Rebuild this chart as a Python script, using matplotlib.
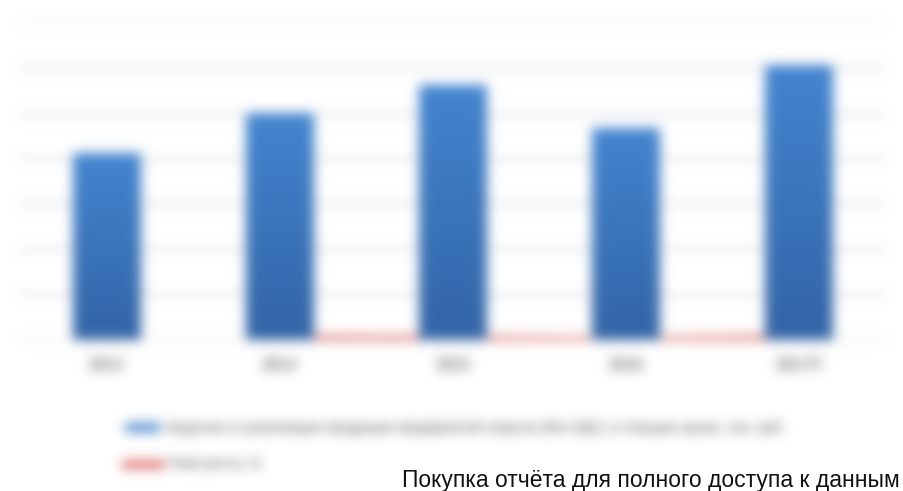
import numpy as np
import matplotlib
matplotlib.use("Agg")
import matplotlib.pyplot as plt
from matplotlib.colors import LinearSegmentedColormap

plt.rcParams['font.family'] = ['Liberation Sans', 'DejaVu Sans']

years = ["2013", "2014", "2015", "2016", "2017П"]
revenue = [4130, 5010, 5630, 4680, 6070]
growth_years = ["2014", "2015", "2016", "2017П"]
growth = [21.3, 12.4, -16.9, 29.7]
label_bars = "Выручка от реализации продукции предприятий отрасли (без НДС), в текущих ценах, тыс. руб."
label_line = "Темп роста, %"
note = "Покупка отчёта для полного доступа к данным"


def blur(img, dpi, sigma=6.0):
    # gaussian blur on premultiplied rgba, padded so it can spread out
    r = int(3 * sigma)
    a = np.pad(img, ((r, r), (r, r), (0, 0)))
    pm = np.concatenate([a[..., :3] * a[..., 3:4], a[..., 3:4]], axis=2)
    k = np.exp(-0.5 * (np.arange(-r, r + 1) / sigma) ** 2)
    k /= k.sum()
    for axis in (0, 1):
        out = np.zeros_like(pm)
        for i, w in zip(range(-r, r + 1), k):
            out += w * np.roll(pm, i, axis=axis)
        pm = out
    alpha = pm[..., 3:4]
    rgb = pm[..., :3] / np.maximum(alpha, 1e-6)
    res = np.clip(np.concatenate([rgb, alpha], axis=2), 0, 1)
    return res, -r, -r


fig = plt.figure(figsize=(9.04, 4.91), dpi=100)
fig.patch.set_facecolor("white")
ax = fig.add_axes([0.022, 0.3075, 0.957, 0.6455])
ax.set_facecolor("none")

x = np.arange(len(years))
bars = ax.bar(x, revenue, width=0.39, color="#4a86cc", zorder=2, label=label_bars)

grad = np.linspace(0, 1, 256).reshape(-1, 1)
cmap = LinearSegmentedColormap.from_list("bar", ["#3264a6", "#4385d0"])
for rect in bars:
    x0, y0 = rect.get_x(), rect.get_y()
    im = ax.imshow(grad, cmap=cmap, origin="lower", aspect="auto", zorder=3,
                   extent=(x0, x0 + rect.get_width(), y0, y0 + rect.get_height()))
    im.set_clip_path(rect)

gx = [years.index(y) for y in growth_years]
line, = ax.plot(gx, growth, color="#d4504d", lw=5, zorder=1, label=label_line)

ax.set_xlim(-0.5, len(years) - 0.5)
ax.set_ylim(0, 7000)
ax.set_yticks(np.arange(0, 7001, 1000))
ax.set_xticks(x)
ax.set_xticklabels(years)
ax.tick_params(axis="x", length=0, pad=13, labelsize=11.5, labelcolor="#303030")
ax.tick_params(axis="y", length=0, labelleft=False)
ax.yaxis.grid(True, color="#d0d0d0", lw=1.5)
ax.set_axisbelow(True)
for s in ax.spines.values():
    s.set_visible(False)

ax.legend([bars, line], [label_bars, label_line],
          loc="center left", bbox_to_anchor=(125 / 904, 1 - 446 / 491),
          bbox_transform=fig.transFigure, frameon=False, fontsize=10,
          labelcolor="#404040", borderpad=0, borderaxespad=0,
          handlelength=2.6, handleheight=0.65, handletextpad=0.5, labelspacing=1.6)

ax.set_agg_filter(blur)

fig.text(900 / 904, 1 - 487 / 491, note, ha="right", va="baseline",
         fontsize=16.5, color="#111111")

fig.savefig("out.png", dpi=100)
